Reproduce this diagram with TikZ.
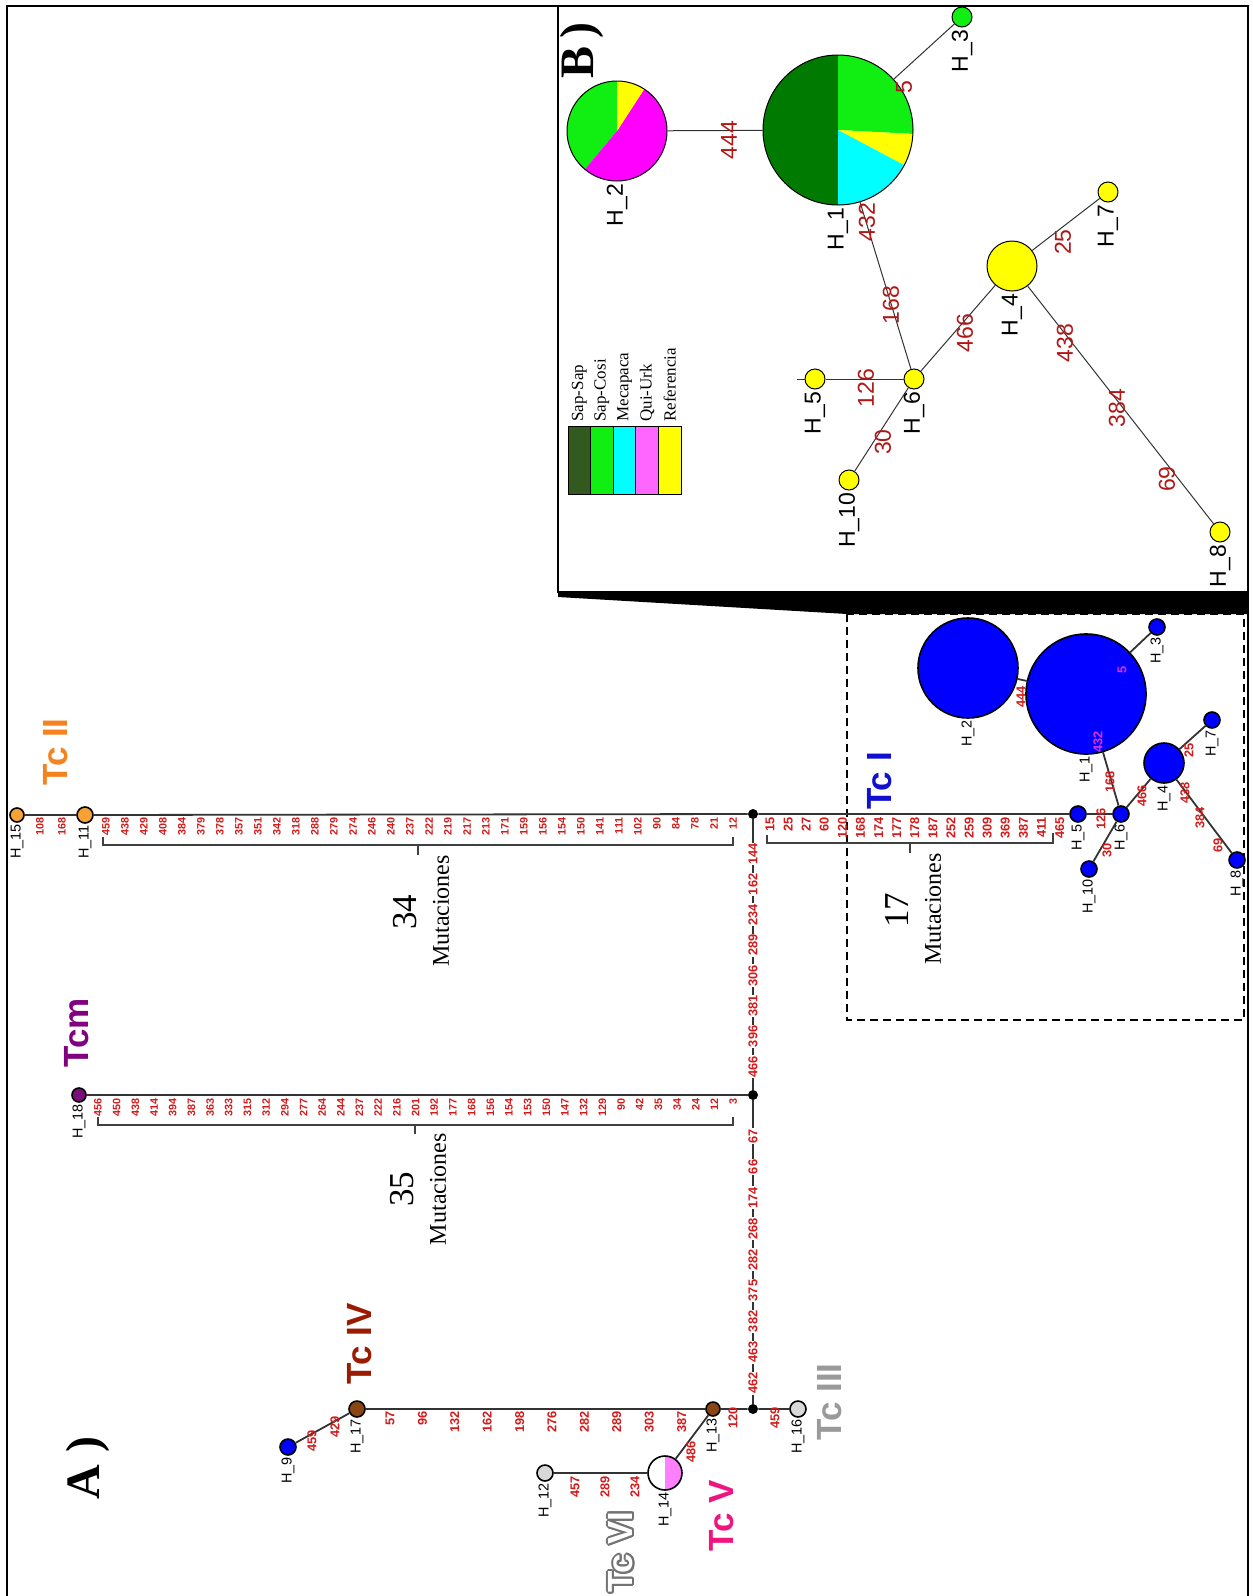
\documentclass[tikz,border=0pt]{standalone}
\usepackage{fontspec}
\setmainfont{Liberation Serif}
\setsansfont{Liberation Sans}
\usepackage[copies]{contour}
\usetikzlibrary{positioning}

\definecolor{mutred}{HTML}{D41A1A}
\definecolor{bred}{HTML}{B01818}
\definecolor{magtxt}{HTML}{E030E0}
\definecolor{hblue}{HTML}{0000FF}
\definecolor{horange}{HTML}{F7A234}
\definecolor{hpurple}{HTML}{7A0F7A}
\definecolor{hbrown}{HTML}{8B4513}
\definecolor{hgray}{HTML}{D8D8D8}
\definecolor{hpink}{HTML}{FF80FF}
\definecolor{tcorange}{HTML}{F5821F}
\definecolor{tcpurple}{HTML}{800080}
\definecolor{tcred}{HTML}{9B1B00}
\definecolor{tcpink}{HTML}{F0147F}
\definecolor{tcgray}{HTML}{9A9A9A}
\definecolor{tcblue}{HTML}{1010D0}
\definecolor{pdkgreen}{HTML}{007A00}
\definecolor{pgreen}{HTML}{11EE11}
\definecolor{pcyan}{HTML}{00FFFF}
\definecolor{pyellow}{HTML}{FFFF00}
\definecolor{pmagenta}{HTML}{FF00FF}
\definecolor{legdkgreen}{HTML}{335A1E}
\definecolor{legpink}{HTML}{FF66FF}

\newcommand\mutfont{\sffamily\bfseries\fontsize{6.4}{7}\selectfont}
\newcommand\mutsmfont{\sffamily\bfseries\fontsize{5.4}{6}\selectfont}
\newcommand\hapfont{\sffamily\fontsize{7.2}{8}\selectfont}
\newcommand\tcfont{\sffamily\bfseries\fontsize{17.5}{18}\selectfont}
\newcommand\numfont{\fontsize{17.5}{18}\selectfont}
\newcommand\mutafont{\fontsize{12}{13}\selectfont}
\newcommand\bhapfont{\sffamily\fontsize{11.5}{12}\selectfont}
\newcommand\bmutfont{\sffamily\fontsize{11.5}{12}\selectfont}
\newcommand\legfont{\fontsize{8.5}{9}\selectfont}
\newcommand\panelfont{\bfseries\fontsize{24}{26}\selectfont}
% pie slice: centre x, centre y, radius, start, end, colour
\newcommand\pieslice[6]{\fill[#6] (#1,#2) -- ++(#4:#3) arc[start angle=#4, end angle=#5, radius=#3] -- cycle;}

\begin{document}
\begin{tikzpicture}[x=0.5pt, y=-0.5pt,
  hap/.style={circle, draw=black, line width=0.8pt, inner sep=0pt, minimum size=#1},
  bhap/.style={hap=#1, line width=0.5pt},
  jn/.style={circle, fill=black, inner sep=0pt, minimum size=5pt},
  net/.style={line width=0.9pt, draw=black!80},
  bnet/.style={line width=0.5pt, draw=black!80},
  mut/.style={rotate=90, text=mutred, font=\mutfont, inner sep=0.4pt},
  mutsm/.style={mut, font=\mutsmfont},
  bmut/.style={rotate=90, text=bred, font=\bmutfont, inner sep=0pt},
  hlab/.style={rotate=90, anchor=east, font=\hapfont, inner sep=0.6pt},
  bhlab/.style={rotate=90, anchor=east, font=\bhapfont, inner sep=1pt},
  tclab/.style={rotate=90, font=\tcfont, inner sep=0pt},
  brace/.style={line width=0.7pt, draw=black!75},
]
\clip (0,0) rectangle (1253,1596);
\fill[white] (0,0) rectangle (1253,1596);
\draw[line width=1.2pt] (7,6) rectangle (1248,1640);

% panel B frame and zoom wedge
\draw[line width=1pt] (558,6) rectangle (1248,592);
\fill (558,591) -- (1248,591) -- (1248,614) -- (847,614) -- (558,597) -- cycle;
\draw[line width=0.7pt, dash pattern=on 4pt off 2.5pt] (847,614) rectangle (1244,1020);

% ---------- A) network ----------
\node[jn] (j1) at (753,814) {};
\node[jn] (j2) at (753,1095) {};
\node[jn] (j3) at (753,1409) {};

\node[hap=7pt, fill=horange] (h15) at (17,815) {};
\node[hap=8pt, fill=horange] (h11) at (85,815) {};
\node[hap=7pt, fill=hpurple] (h18) at (79,1095) {};
\node[hap=8pt, fill=hbrown] (h17) at (357,1409) {};
\node[hap=8pt, fill=hblue] (h9) at (288,1447) {};
\node[hap=7pt, fill=hbrown] (h13) at (713,1409) {};
\fill[white] (665,1473) circle (17);
\fill[hpink] (665,1456) arc[start angle=-90, end angle=90, radius=17] -- cycle;
\node[hap=17pt] (h14) at (665,1473) {};
\node[hap=8pt, fill=hgray] (h12) at (545,1473) {};
\node[hap=8pt, fill=hgray] (h16) at (798,1409) {};

% Tc I inset
\node[hap=60pt, fill=hblue] (a1) at (1086,694) {};
\node[hap=50pt, fill=hblue] (a2) at (968,668) {};
\node[hap=8pt, fill=hblue] (a3) at (1157,627) {};
\node[hap=20pt, fill=hblue] (a4) at (1164,763) {};
\node[hap=8pt, fill=hblue] (a5) at (1078,814) {};
\node[hap=8pt, fill=hblue] (a6) at (1121,814) {};
\node[hap=8pt, fill=hblue] (a7) at (1212,720) {};
\node[hap=8pt, fill=hblue] (a8) at (1237,860) {};
\node[hap=8pt, fill=hblue] (a10) at (1089,869) {};

\draw[net] (h15) -- (h11) -- (j1) -- (a5) -- (a6);
\draw[net] (j1) -- (j2) -- (j3);
\draw[net] (h18) -- (j2);
\draw[net] (h9) -- (h17) -- (h13) -- (j3) -- (h16);
\draw[net] (h13) -- (h14) -- (h12);
\draw[net] (a2) -- (a1) -- (a3);
\draw[net] (a1) -- (a6) -- (a4) -- (a7);
\draw[net] (a4) -- (a8);
\draw[net] (a6) -- (a10);

% mutation labels
\foreach \m [count=\i from 0] in {459,438,429,408,384,379,378,357,351,342,318,288,279,274,246,240,237,222,219,217,213,171,159,156,154,150,141,111,102,90,84,78,21,12}
  \node[mutsm, anchor=east] at ({106+19*\i},816) {\m};
\foreach \m [count=\i from 0] in {456,450,438,414,394,387,363,333,315,312,294,277,264,244,237,222,216,201,192,177,168,156,154,153,150,147,132,129,90,42,35,34,24,12,3}
  \node[mutsm, anchor=east] at ({98+18.68*\i},1097) {\m};
\foreach \m [count=\i from 0] in {15,25,27,60,120,168,174,177,178,187,252,259,309,369,387,411,465}
  \node[mut, anchor=east] at ({770+18.1*\i},816) {\m};
\foreach \m [count=\i from 0] in {57,96,132,162,198,276,282,289,303,387}
  \node[mut, anchor=east] at ({390+32.4*\i},1410) {\m};
\foreach \m [count=\i from 0] in {144,162,234,289,306,381,396,466}
  \node[mut, fill=white] at (753,{854+30.4*\i}) {\m};
\foreach \m [count=\i from 0] in {67,66,174,268,282,375,382,463,462}
  \node[mut, fill=white] at (753,{1136+30.9*\i}) {\m};
\node[mutsm, anchor=east] at (40,816) {108};
\node[mutsm, anchor=east] at (62,816) {168};
\node[mut, anchor=east] at (733,1406) {120};
\node[mut, anchor=east] at (775,1406) {459};
\node[mut, anchor=east] at (575,1475) {457};
\node[mut, anchor=east] at (605,1475) {289};
\node[mut, anchor=east] at (635,1475) {234};
\node[mut] at (335,1427) {429};
\node[mut] at (312,1441) {459};
\node[mut] at (691,1452) {486};
% inset labels
\node[mut] at (1021,697) {444};
\node[mut, text=magtxt] at (1122,670) {5};
\node[mut, text=magtxt] at (1098,742) {432};
\node[mut] at (1110,782) {168};
\node[mut] at (1142,796) {466};
\node[mut] at (1189,750) {25};
\node[mut] at (1185,793) {438};
\node[mut] at (1200,818) {384};
\node[mut] at (1218,845) {69};
\node[mut] at (1101,819) {126};
\node[mut] at (1107,850) {30};

% haplotype names
\node[hlab] at (h15.south) {H\_15};
\node[hlab] at (h11.south) {H\_11};
\node[hlab] at (h18.south) {H\_18};
\node[hlab] at (h17.south) {H\_17};
\node[hlab] at (h9.south) {H\_9};
\node[hlab] at (h13.south) {H\_13};
\node[hlab] at (h14.south) {H\_14};
\node[hlab] at (h12.south) {H\_12};
\node[hlab] at (h16.south) {H\_16};
\node[hlab] at (a1.south) {H\_1};
\node[hlab] at (a2.south) {H\_2};
\node[hlab] at (a3.south) {H\_3};
\node[hlab] at (a4.south) {H\_4};
\node[hlab] at (a5.south) {H\_5};
\node[hlab] at (a6.south) {H\_6};
\node[hlab] at (a7.south) {H\_7};
\node[hlab] at (a8.south) {H\_8};
\node[hlab] at (a10.south) {H\_10};

% brackets
\draw[brace] (103,837) -- (103,845) -- (733,845) -- (733,837) (418,845) -- (418,855);
\draw[brace] (98,1117) -- (98,1125) -- (733,1125) -- (733,1117) (415,1125) -- (415,1134);
\draw[brace] (767,835) -- (767,843) -- (1053,843) -- (1053,833) (910,843) -- (910,853);
\node[rotate=90, font=\numfont] at (405,912) {34};
\node[rotate=90, font=\mutafont] at (441,911) {Mutaciones};
\node[rotate=90, font=\numfont] at (402,1189) {35};
\node[rotate=90, font=\mutafont] at (438,1189) {Mutaciones};
\node[rotate=90, font=\numfont] at (897,910) {17};
\node[rotate=90, font=\mutafont] at (933,909) {Mutaciones};

% lineage names
\node[tclab, text=tcorange] at (56,752) {Tc II};
\node[tclab, text=tcpurple] at (77,1033) {Tcm};
\node[tclab, text=tcred] at (360,1344) {Tc IV};
\node[tclab, text=tcgray] at (830,1402) {Tc III};
\node[tclab, text=tcpink] at (722,1516) {Tc V};
\node[tclab, anchor=east] at (622,1511) {\contourlength{1pt}\contour{black!55}{\textcolor{white}{Tc VI}}};
\node[tclab, text=tcblue] at (880,781) {Tc I};
\node[rotate=90, font=\panelfont] at (88,1468) {A )};

% ---------- B) network ----------
\node[rotate=90, font=\panelfont] at (582,50) {B\,)};
\pieslice{617}{131}{50}{-90}{-230}{pgreen}
\pieslice{617}{131}{50}{130}{-57}{pmagenta}
\pieslice{617}{131}{50}{-57}{-90}{pyellow}
\node[bhap=50pt] (b2) at (617,131) {};
\pieslice{838}{130}{75}{90}{270}{pdkgreen}
\pieslice{838}{130}{75}{3}{-90}{pgreen}
\pieslice{838}{130}{75}{28}{3}{pyellow}
\pieslice{838}{130}{75}{90}{28}{pcyan}
\node[bhap=75pt] (b1) at (838,130) {};
\node[bhap=10pt, fill=pgreen] (b3) at (962,17) {};
\node[bhap=25pt, fill=pyellow] (b4) at (1012,266) {};
\node[bhap=10pt, fill=pyellow] (b5) at (815,379) {};
\node[bhap=10pt, fill=pyellow] (b6) at (914,379) {};
\node[bhap=10pt, fill=pyellow] (b7) at (1108,192) {};
\node[bhap=10pt, fill=pyellow] (b8) at (1220,532) {};
\node[bhap=10pt, fill=pyellow] (b10) at (849,480) {};
\coordinate (b5stub) at (797,379);

\draw[bnet] (b2) -- (b1) -- (b3);
\draw[bnet] (b1) -- (b6) -- (b4) -- (b7);
\draw[bnet] (b4) -- (b8);
\draw[bnet] (b6) -- (b10);
\draw[bnet] (b6) -- (b5) -- (b5stub);

\node[bmut] at (729,140) {444};
\node[bmut] at (904,87) {5};
\node[bmut] at (867,222) {432};
\node[bmut] at (891,305) {168};
\node[bmut] at (965,333) {466};
\node[bmut] at (866,388) {126};
\node[bmut] at (883,442) {30};
\node[bmut] at (1063,242) {25};
\node[bmut] at (1065,343) {438};
\node[bmut] at (1117,408) {384};
\node[bmut] at (1167,479) {69};

\node[bhlab] at (b1.south) {H\_1};
\node[bhlab] at (b2.south) {H\_2};
\node[bhlab] at (b3.south) {H\_3};
\node[bhlab] at (b4.south) {H\_4};
\node[bhlab] at (b5.south) {H\_5};
\node[bhlab] at (b6.south) {H\_6};
\node[bhlab] at (b7.south) {H\_7};
\node[bhlab] at (b8.south) {H\_8};
\node[bhlab] at (b10.south) {H\_10};

% legend
\foreach \c/\t [count=\i from 0] in {legdkgreen/Sap-Sap,pgreen/Sap-Cosi,pcyan/Mecapaca,legpink/Qui-Urk,pyellow/Referencia}{
  \filldraw[fill=\c, draw=black, line width=0.5pt] ({568+22.6*\i},426) rectangle ++(22.6,68);
  \node[rotate=90, anchor=west, font=\legfont, inner sep=1pt] at ({579.3+22.6*\i},424) {\t};
}
\end{tikzpicture}
\end{document}
